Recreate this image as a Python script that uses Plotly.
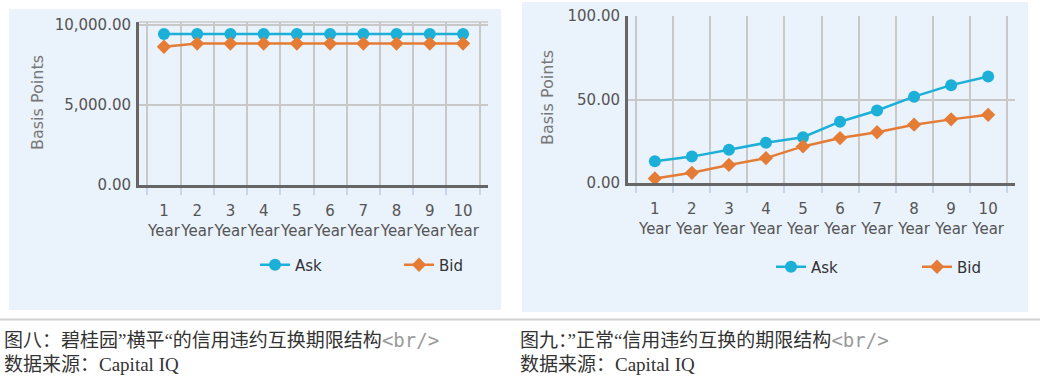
import plotly.graph_objects as go

W, H = 1051, 383

categories = ["1<br>Year", "2<br>Year", "3<br>Year", "4<br>Year", "5<br>Year",
              "6<br>Year", "7<br>Year", "8<br>Year", "9<br>Year", "10<br>Year"]

# Figure 8: Country Garden "flat" CDS term structure (basis points)
left_ask = [9450, 9450, 9450, 9450, 9450, 9450, 9450, 9450, 9450, 9450]
left_bid = [8650, 8850, 8850, 8850, 8850, 8850, 8850, 8850, 8850, 8850]

# Figure 9: "normal" CDS term structure (basis points)
right_ask = [13.0, 15.8, 19.9, 24.1, 27.4, 36.7, 43.4, 51.7, 58.6, 63.8]
right_bid = [2.7, 6.1, 10.8, 14.9, 21.9, 26.9, 30.4, 34.9, 38.1, 40.8]

left_ticks = [0, 5000, 10000]
right_ticks = [0, 50, 100]

caption_left = "图八：碧桂园”横平“的信用违约互换期限结构"
caption_right = "图九：”正常“信用违约互换的期限结构"
source_text = "数据来源：Capital IQ"

ASK_C = "#1cb0d9"
BID_C = "#e57c36"
BG = "#eaf2fb"
GRID = "#c8c8c8"
AXIS = "#666666"
FONT = "DejaVu Sans"

def px(x):
    return x / W

def py(y):
    return 1 - y / H

fig = go.Figure()

fig.add_trace(go.Scatter(x=categories, y=left_ask, name="Ask", mode="lines+markers",
                         line=dict(color=ASK_C, width=2.5),
                         marker=dict(symbol="circle", size=12, color=ASK_C),
                         xaxis="x", yaxis="y", legend="legend"))
fig.add_trace(go.Scatter(x=categories, y=left_bid, name="Bid", mode="lines+markers",
                         line=dict(color=BID_C, width=2.5),
                         marker=dict(symbol="diamond", size=11, color=BID_C),
                         xaxis="x", yaxis="y", legend="legend"))
fig.add_trace(go.Scatter(x=categories, y=right_ask, name="Ask", mode="lines+markers",
                         line=dict(color=ASK_C, width=2.5),
                         marker=dict(symbol="circle", size=12, color=ASK_C),
                         xaxis="x2", yaxis="y2", legend="legend2"))
fig.add_trace(go.Scatter(x=categories, y=right_bid, name="Bid", mode="lines+markers",
                         line=dict(color=BID_C, width=2.5),
                         marker=dict(symbol="diamond", size=11, color=BID_C),
                         xaxis="x2", yaxis="y2", legend="legend2"))

xcommon = dict(type="category", tickson="boundaries", showgrid=True, gridcolor=GRID,
               gridwidth=1.5, ticks="outside", ticklen=7, tickwidth=2, tickcolor="#c6d6ea",
               showline=True, linecolor=AXIS, linewidth=3, tickangle=0, automargin=False,
               ticklabelstandoff=10,
               tickfont=dict(family=FONT, size=15, color="#555555"),
               fixedrange=True, zeroline=False)
ycommon = dict(showgrid=True, gridcolor=GRID, gridwidth=1.5, ticks="",
               showline=True, linecolor=AXIS, linewidth=3, zeroline=False, automargin=False,
               tickfont=dict(family=FONT, size=15, color="#555555"),
               ticklabelstandoff=2, fixedrange=True)

layout = dict(
    width=W, height=H,
    margin=dict(l=0, r=0, t=0, b=0, autoexpand=False),
    paper_bgcolor="white",
    plot_bgcolor=BG,
    xaxis=dict(domain=[px(139), px(488)], anchor="y", **xcommon),
    yaxis=dict(domain=[py(185), py(22)], anchor="x", range=[0, 10200],
               tickvals=left_ticks, tickformat=",.2f", **ycommon),
    xaxis2=dict(domain=[px(628), px(1015)], anchor="y2", **xcommon),
    yaxis2=dict(domain=[py(183), py(16)], anchor="x2", range=[0, 100],
                tickvals=right_ticks, tickformat=",.2f", **ycommon),
    legend=dict(orientation="h", x=px(255), xanchor="left", y=py(265), yanchor="middle",
                entrywidth=99, entrywidthmode="pixels", bgcolor="rgba(0,0,0,0)",
                font=dict(family=FONT, size=15, color="#333333"), itemclick=False),
    legend2=dict(orientation="h", x=px(771), xanchor="left", y=py(267), yanchor="middle",
                 entrywidth=101, entrywidthmode="pixels", bgcolor="rgba(0,0,0,0)",
                 font=dict(family=FONT, size=15, color="#333333"), itemclick=False),
    showlegend=True,
)
fig.update_layout(**layout)

shapes = [
    dict(type="rect", xref="paper", yref="paper", x0=px(9), x1=px(501), y0=py(310), y1=py(9),
         fillcolor=BG, line=dict(width=0), layer="below"),
    dict(type="rect", xref="paper", yref="paper", x0=px(522), x1=px(1028), y0=py(312), y1=py(2),
         fillcolor=BG, line=dict(width=0), layer="below"),
    dict(type="line", xref="paper", yref="paper", x0=0, x1=px(1040), y0=py(319.5), y1=py(319.5),
         line=dict(color="#d0d0d0", width=2)),
    dict(type="line", xref="x domain", yref="y domain", x0=0, x1=1, y0=1, y1=1,
         line=dict(color=GRID, width=1.5)),
]
fig.update_layout(shapes=shapes)

br = "<span style='font-family:DejaVu Sans Mono;color:#9a9a9a'>&lt;br/&gt;</span>"
cap_font = dict(family="Liberation Serif, Noto Sans CJK SC", size=19, color="#333333")
title_font = dict(family=FONT, size=16, color="#777777")
ann = [
    dict(text="Basis Points", x=px(37), y=py(103), xref="paper", yref="paper", textangle=-90,
         xanchor="center", yanchor="middle", showarrow=False, font=title_font),
    dict(text="Basis Points", x=px(548), y=py(98), xref="paper", yref="paper", textangle=-90,
         xanchor="center", yanchor="middle", showarrow=False, font=title_font),
    dict(text=caption_left + br, x=px(2), y=py(340), xref="paper", yref="paper",
         xanchor="left", yanchor="middle", showarrow=False, font=cap_font),
    dict(text=source_text, x=px(2), y=py(364), xref="paper", yref="paper",
         xanchor="left", yanchor="middle", showarrow=False, font=cap_font),
    dict(text=caption_right + br, x=px(518), y=py(340), xref="paper", yref="paper",
         xanchor="left", yanchor="middle", showarrow=False, font=cap_font),
    dict(text=source_text, x=px(518), y=py(364), xref="paper", yref="paper",
         xanchor="left", yanchor="middle", showarrow=False, font=cap_font),
]
fig.update_layout(annotations=ann)

fig.write_html("out.html", config={"displayModeBar": False},
               post_script="document.body.style.margin='0px';")
